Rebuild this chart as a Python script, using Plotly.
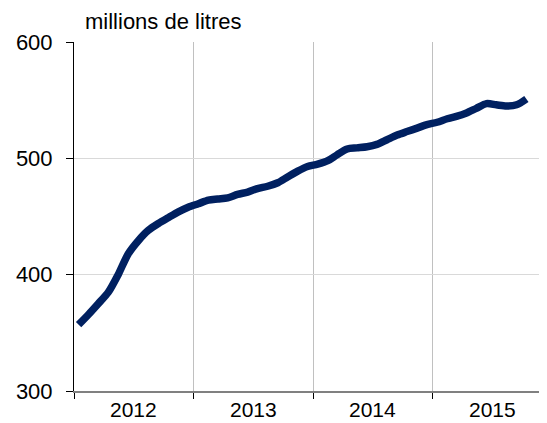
import plotly.graph_objects as go

# Monthly data, Jan 2012 - Oct 2015 (plotted mid-month)
months = [f"{y}-{m:02d}-15" for y in range(2012, 2016) for m in range(1, 13)][:46]
values = [357, 366, 375, 385, 400, 418, 429, 438, 444, 449, 454, 458,
          461, 464, 465, 466, 469, 471, 474, 476, 479, 484, 489, 493,
          495, 498, 503, 508, 509, 510, 512, 516, 520, 523, 526, 529,
          531, 534, 536, 539, 543, 547, 546, 545, 546, 551]
year_labels = ["2012", "2013", "2014", "2015"]
year_label_pos = ["2012-07-02", "2013-07-02", "2014-07-02", "2015-07-02"]
y_ticks = [300, 400, 500, 600]
unit_label = "millions de litres"

fig = go.Figure()
fig.add_trace(go.Scatter(
    x=months, y=values, mode="lines",
    line=dict(color="#002060", width=7.5, shape="spline", smoothing=0.8),
    hoverinfo="skip", showlegend=False,
))

# page body has an 8px margin: size the figure so it fits exactly in the window
W, H = 539, 415
ml, mr, mt, mb = 66, 0, 34, 32
fs = 22
fig.update_layout(
    width=W, height=H,
    margin=dict(l=ml, r=mr, t=mt, b=mb, autoexpand=False),
    paper_bgcolor="white", plot_bgcolor="white",
    font=dict(family="Liberation Sans, Arial, sans-serif", size=fs, color="#000000"),
    xaxis=dict(
        type="date", automargin=False,
        range=["2012-01-01", "2015-12-17"],
        tick0="2012-01-01", dtick="M12",
        showticklabels=False,
        ticks="outside", ticklen=6, tickcolor="#000000", tickwidth=1,
        showgrid=True, gridcolor="#c0c0c0", gridwidth=1,
        showline=True, linecolor="#808080", linewidth=1.5,
        zeroline=False,
    ),
    yaxis=dict(
        range=[300, 600], tickvals=y_ticks, automargin=False,
        ticks="outside", ticklen=7, tickcolor="#000000", tickwidth=1,
        showgrid=True, gridcolor="#d9d9d9", gridwidth=1,
        showline=True, linecolor="#000000", linewidth=1,
        zeroline=False, tickfont=dict(size=fs),
        ticklabelstandoff=9,
    ),
)
for pos, lab in zip(year_label_pos, year_labels):
    fig.add_annotation(
        text=lab, x=pos, xref="x", yref="paper", y=0,
        xanchor="center", yanchor="top", yshift=-6, borderpad=0,
        showarrow=False, font=dict(size=21),
    )
fig.add_annotation(
    text=unit_label, xref="paper", yref="paper",
    x=(75 - ml) / (W - ml - mr), y=1, xanchor="left", yanchor="bottom",
    yshift=6, showarrow=False, font=dict(size=fs),
)
fig.write_html("out.html")
